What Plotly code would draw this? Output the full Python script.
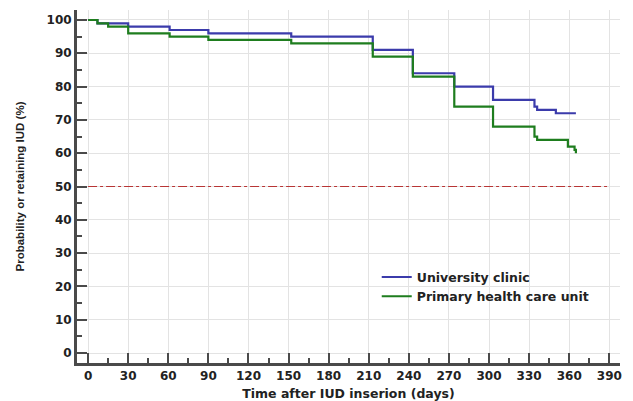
import plotly.graph_objects as go

# University clinic (Kaplan-Meier step data)
uni_days = [0, 7, 30, 61, 90, 152, 213, 243, 274, 303, 334, 336, 350, 365]
uni_prob = [100, 99, 98, 97, 96, 95, 91, 84, 80, 76, 74, 73, 72, 72]

# Primary health care unit
phc_days = [0, 7, 15, 30, 61, 90, 152, 213, 243, 274, 303, 334, 336, 359, 364, 365]
phc_prob = [100, 99, 98, 96, 95, 94, 93, 89, 83, 74, 68, 65, 64, 62, 61, 60]

ref_days = [0, 390]
ref_prob = [50, 50]

x_ticks = [0, 30, 60, 90, 120, 150, 180, 210, 240, 270, 300, 330, 360, 390]
y_ticks = [0, 10, 20, 30, 40, 50, 60, 70, 80, 90, 100]

FONT = "DejaVu Sans, Arial, sans-serif"

fig = go.Figure()
fig.add_trace(go.Scatter(x=ref_days, y=ref_prob, mode="lines", showlegend=False,
                         line=dict(color="#b83535", width=1, dash="dashdot"), hoverinfo="skip"))
fig.add_trace(go.Scatter(x=uni_days, y=uni_prob, mode="lines", name="University clinic",
                         line=dict(color="#3b3bab", width=2.2, shape="hv")))
fig.add_trace(go.Scatter(x=phc_days, y=phc_prob, mode="lines", name="Primary health care unit",
                         line=dict(color="#1e7d1e", width=2.2, shape="hv")))

fig.update_layout(
    width=633, height=401,
    margin=dict(l=77, r=13, t=10, b=38),
    paper_bgcolor="white", plot_bgcolor="white",
    font=dict(family=FONT, size=12, color="#222222", weight="bold"),
    legend=dict(x=0.552, y=0.285, xanchor="left", yanchor="top",
                bgcolor="rgba(0,0,0,0)", font=dict(size=12.5, weight="bold"),
                tracegroupgap=0, itemwidth=30),
    xaxis=dict(
        range=[-8.3, 398], tickvals=x_ticks, showgrid=True, gridcolor="#e3e3e3", gridwidth=1,
        zeroline=False, showline=True, linecolor="#4a4a4a", linewidth=3,
        ticks="inside", ticklen=10, tickwidth=2, tickcolor="#4a4a4a",
        minor=dict(dtick=15, tick0=0, ticks="inside", ticklen=5, tickwidth=1.5, tickcolor="#4a4a4a", showgrid=False),
        title=dict(text="Time after IUD inserion (days)", standoff=8,
                   font=dict(family=FONT, size=12.5, weight="bold")),
        tickfont=dict(size=12, weight="bold"), automargin=False,
    ),
    yaxis=dict(
        range=[-3, 103], tickvals=y_ticks, showgrid=True, gridcolor="#e3e3e3", gridwidth=1,
        zeroline=False, showline=True, linecolor="#4a4a4a", linewidth=3,
        ticks="inside", ticklen=10, tickwidth=2, tickcolor="#4a4a4a",
        minor=dict(dtick=5, tick0=0, ticks="inside", ticklen=5, tickwidth=1.5, tickcolor="#4a4a4a", showgrid=False),
        title=dict(text="Probability or retaining IUD (%)", standoff=20,
                   font=dict(family="Liberation Sans, Arial, sans-serif", size=11.5, weight="bold")),
        tickfont=dict(size=12, weight="bold"), automargin=False,
    ),
)

fig.write_html("out.html")
